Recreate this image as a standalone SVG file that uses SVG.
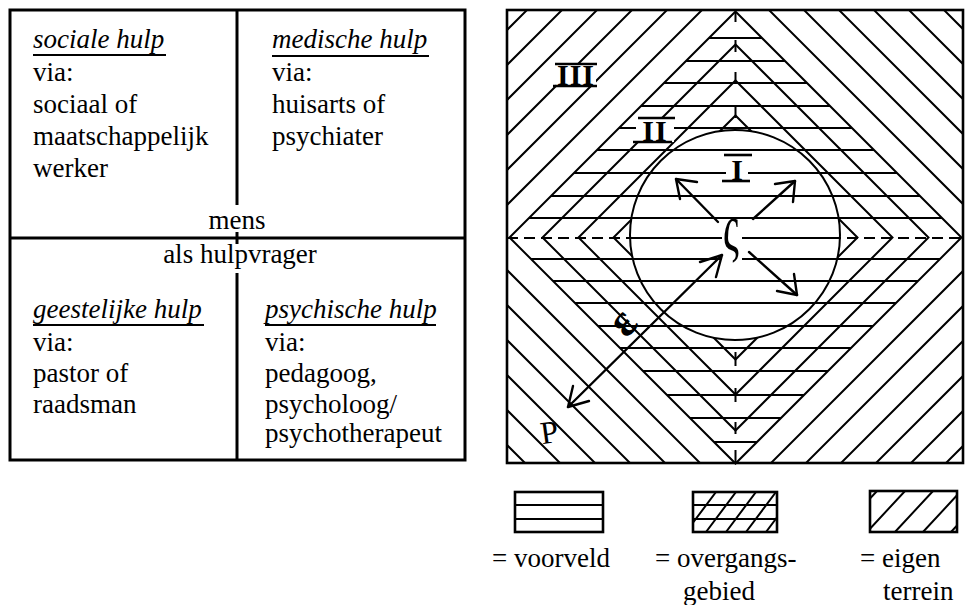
<svg xmlns="http://www.w3.org/2000/svg" width="966" height="605" viewBox="0 0 966 605">
<style>
text{font-family:"Liberation Serif","Times New Roman",serif;fill:#000}
.t{font-size:27px}
.it{font-size:27px;font-style:italic}
.tb{stroke:#000;stroke-width:3;fill:none}
.ul{stroke:#000;stroke-width:2}
.h{stroke:#000;stroke-width:2;fill:none}
.fr{stroke:#000;stroke-width:2.6;fill:none}
.num{font-size:30px;font-weight:bold;text-anchor:middle}
.bar{stroke:#000;stroke-width:2.6}
.ar{stroke:#000;stroke-width:2.4;fill:none;stroke-linecap:round;stroke-linejoin:round}
.sym{font-size:46px;font-weight:bold;text-anchor:middle}
</style>
<defs>
<clipPath id="frameClip"><rect x="507" y="10" width="456" height="453"/></clipPath>
<clipPath id="diamondClip"><path d="M735.5,11.5 L961.5,237.5 L735.5,463.5 L509.5,237.5 Z"/></clipPath>
<clipPath id="outCircle"><path clip-rule="evenodd" d="M507,10 H963 V463 H507 Z M630,235 A105,105 0 1,0 840,235 A105,105 0 1,0 630,235 Z"/></clipPath>
<clipPath id="inCircle"><circle cx="735" cy="235" r="105"/></clipPath>
<clipPath id="box2"><rect x="693" y="492" width="84" height="40"/></clipPath>
<clipPath id="box3"><rect x="870" y="491" width="87" height="41"/></clipPath>
</defs>
<rect width="966" height="605" fill="#fff"/>

<!-- LEFT TABLE -->
<g id="table">
<rect class="tb" x="10" y="10" width="455" height="450"/>
<line class="tb" x1="10" y1="238" x2="465" y2="238"/>
<line class="tb" x1="237" y1="10" x2="237" y2="205"/>
<line class="tb" x1="237" y1="232" x2="237" y2="244"/>
<line class="tb" x1="237" y1="273" x2="237" y2="460"/>
</g>
<g id="cell-sociale">
<text class="it" x="33" y="48">sociale hulp</text>
<line class="ul" x1="33" y1="55" x2="166" y2="55"/>
<text class="t" x="33" y="81">via:</text>
<text class="t" x="33" y="113">sociaal of</text>
<text class="t" x="33" y="145">maatschappelijk</text>
<text class="t" x="33" y="177">werker</text>
</g>
<g id="cell-medische">
<text class="it" x="272" y="48">medische hulp</text>
<line class="ul" x1="272" y1="56" x2="429" y2="56"/>
<text class="t" x="272" y="81">via:</text>
<text class="t" x="272" y="113">huisarts of</text>
<text class="t" x="272" y="145">psychiater</text>
</g>
<g id="center-label">
<text class="t" x="237" y="229" text-anchor="middle">mens</text>
<text class="t" x="240" y="263" text-anchor="middle">als hulpvrager</text>
</g>
<g id="cell-geestelijke">
<text class="it" x="33" y="318">geestelijke hulp</text>
<line class="ul" x1="33" y1="325" x2="204" y2="325"/>
<text class="t" x="33" y="351">via:</text>
<text class="t" x="33" y="382">pastor of</text>
<text class="t" x="33" y="413">raadsman</text>
</g>
<g id="cell-psychische">
<text class="it" x="265" y="318">psychische hulp</text>
<line class="ul" x1="265" y1="325" x2="436" y2="325"/>
<text class="t" x="265" y="351">via:</text>
<text class="t" x="265" y="382">pedagoog,</text>
<text class="t" x="265" y="413">psycholoog/</text>
<text class="t" x="265" y="442">psychotherapeut</text>
</g>

<!-- RIGHT DIAGRAM -->
<g id="eigen-terrein" clip-path="url(#frameClip)">
<path class="h" d="M735.5,-23.5 L996.5,237.5 L735.5,498.5 L474.5,237.5 Z"/>
<path class="h" d="M735.5,-58.5 L1031.5,237.5 L735.5,533.5 L439.5,237.5 Z"/>
<path class="h" d="M735.5,-93.5 L1066.5,237.5 L735.5,568.5 L404.5,237.5 Z"/>
<path class="h" d="M735.5,-128.5 L1101.5,237.5 L735.5,603.5 L369.5,237.5 Z"/>
<path class="h" d="M735.5,-163.5 L1136.5,237.5 L735.5,638.5 L334.5,237.5 Z"/>
<path class="h" d="M735.5,-198.5 L1171.5,237.5 L735.5,673.5 L299.5,237.5 Z"/>
</g>
<g id="voorveld" clip-path="url(#diamondClip)">
<path class="h" d="M507,38H963M507,61H963M507,83H963M507,106H963M507,128H963M507,150H963M507,173H963M507,196H963M507,218H963M507,259H963M507,281H963M507,303H963M507,326H963M507,348H963M507,371H963M507,395H963M507,418H963M507,442H963"/>
<line class="h" x1="620" y1="238" x2="850" y2="238" clip-path="url(#inCircle)"/>
</g>
<g id="overgangsgebied" clip-path="url(#outCircle)">
<path class="h" d="M735.5,44.5 L928.5,237.5 L735.5,430.5 L542.5,237.5 Z"/>
<path class="h" d="M735.5,80.5 L892.5,237.5 L735.5,394.5 L578.5,237.5 Z"/>
<path class="h" d="M735.5,115.5 L857.5,237.5 L735.5,359.5 L613.5,237.5 Z"/>
<line class="h" x1="507" y1="238" x2="963" y2="238" stroke-dasharray="11 6"/>
<path class="h" d="M735.5,12V22M735.5,40V52M735.5,72V84M735.5,106V118M735.5,352V366M735.5,388V402M735.5,422V434M735.5,450V463"/>
</g>
<path id="outer-diamond" class="h" d="M735.5,11.5 L961.5,237.5 L735.5,463.5 L509.5,237.5 Z"/>
<circle id="kern" class="h" cx="735" cy="235" r="105"/>
<rect id="frame" class="fr" x="507" y="10" width="456" height="453"/>

<g id="label-III">
<rect x="556" y="64" width="40" height="22" fill="#fff"/>
<text class="num" x="576" y="85" letter-spacing="1">III</text>
<line class="bar" x1="555" y1="64" x2="597" y2="64"/>
<line class="bar" x1="553" y1="86" x2="597" y2="86"/>
</g>
<g id="label-II">
<rect x="636" y="118" width="38" height="24" fill="#fff"/>
<text class="num" x="655" y="141" letter-spacing="1">II</text>
<line class="bar" x1="638" y1="118" x2="675" y2="118"/>
<line class="bar" x1="633" y1="142" x2="672" y2="142"/>
</g>
<g id="label-I">
<rect x="726" y="156" width="22" height="24" fill="#fff"/>
<text class="num" x="737" y="180">I</text>
<line class="bar" x1="724" y1="155" x2="752" y2="155"/>
<line class="bar" x1="722" y1="181" x2="750" y2="181"/>
</g>
<g id="center-S">
<rect x="722" y="220" width="20" height="48" fill="#fff"/>
<text transform="translate(731,251) scale(1,1.7)" font-size="40" text-anchor="middle">ς</text>
</g>
<g id="label-P">
<text x="540" y="443" font-size="32" transform="rotate(-8 550 430)">P</text>
</g>

<g id="connectors">
<line class="ar" x1="718" y1="222" x2="676" y2="179"/>
<polyline class="ar" points="697,182 676,179 680,199"/>
<line class="ar" x1="753" y1="219" x2="795" y2="181"/>
<polyline class="ar" points="775,184 795,181 793,202"/>
<line class="ar" x1="749" y1="252" x2="797" y2="295"/>
<polyline class="ar" points="777,291 797,295 794,274"/>
<line class="ar" x1="722" y1="255" x2="568" y2="407"/>
<polyline class="ar" points="700,262 722,255 716,277"/>
<polyline class="ar" points="589,401 568,407 573,386"/>
<text class="sym" x="624" y="336" transform="rotate(-50 624 324)">ε</text>
</g>

<!-- LEGEND -->
<g id="legend-voorveld">
<rect class="fr" x="515" y="492" width="88" height="40"/>
<path class="h" d="M515,505H603M515,519H603"/>
<text class="t" x="492" y="567">= voorveld</text>
</g>
<g id="legend-overgangsgebied">
<g clip-path="url(#box2)">
<path class="h" d="M686,532L716,492M706,532L736,492M726,532L756,492M746,532L776,492M766,532L796,492"/>
<path class="h" d="M693,505H777M693,519H777"/>
</g>
<rect class="fr" x="693" y="492" width="84" height="40"/>
<text class="t" x="655" y="567">= overgangs-</text>
<text class="t" x="683" y="600">gebied</text>
</g>
<g id="legend-eigen-terrein">
<g clip-path="url(#box3)">
<path class="h" d="M839,532L877,491M867,532L905,491M895,532L933,491M923,532L961,491M951,532L989,491"/>
</g>
<rect class="fr" x="870" y="491" width="87" height="41"/>
<text class="t" x="860" y="567">= eigen</text>
<text class="t" x="883" y="600">terrein</text>
</g>
</svg>
